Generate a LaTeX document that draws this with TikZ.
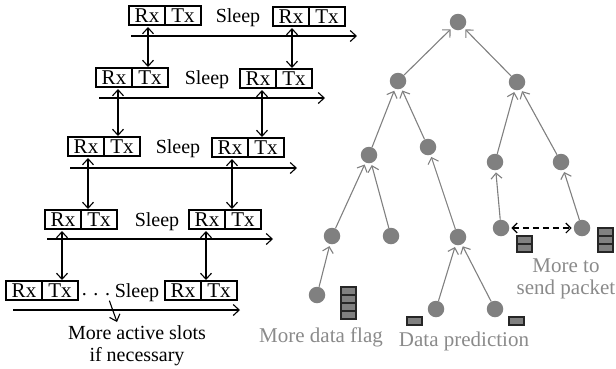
\documentclass[tikz,border=0pt]{standalone}
\usepackage{fontspec}
\setmainfont{Liberation Serif}
\usetikzlibrary{arrows.meta}
\definecolor{treegray}{RGB}{128,128,128}
\definecolor{labgray}{RGB}{138,138,138}
\begin{document}
\begin{tikzpicture}[x=1pt,y=-1pt,
  slot/.style={draw, line width=1.1pt, minimum width=36pt, minimum height=19pt,
    inner sep=0pt, outer sep=0pt, text height=13.9pt, text depth=0pt,
    font=\fontsize{21}{23}\selectfont},
  blab/.style={inner sep=0pt, anchor=base, font=\fontsize{20}{22}\selectfont},
  glab/.style={inner sep=0pt, anchor=base, text=labgray, font=\fontsize{21}{23}\selectfont},
  axis/.style={line width=1.1pt, -{Straight Barb[length=6pt,width=11pt,line width=1.1pt]}},
  dbl/.style={line width=1.1pt, {Straight Barb[length=6pt,width=11pt,line width=1.1pt]}-{Straight Barb[length=6pt,width=11pt,line width=1.1pt]}, shorten <=2pt, shorten >=1pt},
  tn/.style={circle, fill=treegray, minimum size=16.5pt, inner sep=0pt},
  tedge/.style={treegray, line width=1.1pt, -{Straight Barb[length=5.5pt,width=11pt,line width=1.1pt]}, shorten >=2pt},
  dasharr/.style={black, line width=1.1pt, dash pattern=on 6pt off 4pt, {Straight Barb[length=5pt,width=10pt,line width=1.1pt]}-{Straight Barb[length=5pt,width=10pt,line width=1.1pt]}, shorten <=2pt, shorten >=2pt},
  pkt/.style={draw=black!85, fill=treegray, line width=1.1pt, minimum width=15pt, minimum height=8pt, inner sep=0pt, outer sep=0pt, anchor=north west}
]
\useasboundingbox (0,0) rectangle (616,368);

% ---- left: slot rows ----
% row 1
\node[slot, anchor=north west] (r1a) at (129,6) {Rx};
\node[slot, anchor=west] (r1b) at (r1a.east) {Tx};
\node[slot, anchor=north west] (r1c) at (273,7) {Rx};
\node[slot, anchor=west] (r1d) at (r1c.east) {Tx};
\node[blab] (s1) at (r1a.base -| 238,0) {Sleep};
\coordinate (ax1s) at (131,36); \coordinate (ax1e) at (357,36);
\draw[axis] (ax1s) -- (ax1e);
% row 2
\node[slot, anchor=north west] (r2a) at (96,68) {Rx};
\node[slot, anchor=west] (r2b) at (r2a.east) {Tx};
\node[slot, anchor=north west] (r2c) at (240,69) {Rx};
\node[slot, anchor=west] (r2d) at (r2c.east) {Tx};
\node[blab] (s2) at (r2a.base -| 207,0) {Sleep};
\coordinate (ax2s) at (99,98); \coordinate (ax2e) at (325,98);
\draw[axis] (ax2s) -- (ax2e);
% row 3
\node[slot, anchor=north west] (r3a) at (68,137) {Rx};
\node[slot, anchor=west] (r3b) at (r3a.east) {Tx};
\node[slot, anchor=north west] (r3c) at (212,138) {Rx};
\node[slot, anchor=west] (r3d) at (r3c.east) {Tx};
\node[blab] (s3) at (r3a.base -| 178,0) {Sleep};
\coordinate (ax3s) at (70,168); \coordinate (ax3e) at (297,168);
\draw[axis] (ax3s) -- (ax3e);
% row 4
\node[slot, anchor=north west] (r4a) at (45,210) {Rx};
\node[slot, anchor=west] (r4b) at (r4a.east) {Tx};
\node[slot, anchor=north west] (r4c) at (189,210) {Rx};
\node[slot, anchor=west] (r4d) at (r4c.east) {Tx};
\node[blab] (s4) at (r4a.base -| 157,0) {Sleep};
\coordinate (ax4s) at (47,239); \coordinate (ax4e) at (273,239);
\draw[axis] (ax4s) -- (ax4e);
% row 5
\node[slot, anchor=north west] (r5a) at (6,281) {Rx};
\node[slot, anchor=west] (r5b) at (r5a.east) {Tx};
\node[slot, anchor=north west] (r5c) at (165,281) {Rx};
\node[slot, anchor=west] (r5d) at (r5c.east) {Tx};
\node[blab] (dots) at (r5a.base -| 96,0) {\raisebox{1.5pt}{.\,\,.\,\,.}};
\node[blab] (s5) at (r5a.base -| 137,0) {Sleep};
\coordinate (ax5s) at (13,310); \coordinate (ax5e) at (240,310);
\draw[axis] (ax5s) -- (ax5e);

% vertical double arrows
\draw[dbl] (r1a.south -| 148,0) -- (r2b.north -| 148,0);
\draw[dbl] (r1c.south -| 292,0) -- (r2d.north -| 292,0);
\draw[dbl] (r2a.south -| 118,0) -- (r3b.north -| 118,0);
\draw[dbl] (r2c.south -| 262,0) -- (r3d.north -| 262,0);
\draw[dbl] (r3a.south -| 88,0) -- (r4b.north -| 88,0);
\draw[dbl] (r3c.south -| 232,0) -- (r4d.north -| 232,0);
\draw[dbl] (r4a.south -| 62,0) -- (r5b.north -| 62,0);
\draw[dbl] (r4c.south -| 206,0) -- (r5d.north -| 206,0);

% more active slots
\node[blab] (mas1) at (137,339) {More active slots};
\node[blab] (mas2) at (137,361) {if necessary};
\coordinate (masend) at (117,322);
\draw[axis] ([shift={(-1,3)}]dots.south east) -- (masend);

% ---- right: tree ----
\node[tn] (t0) at (458,22) {};
\node[tn] (t1) at (398,81) {};
\node[tn] (t2) at (517,82) {};
\node[tn] (t3) at (369,155) {};
\node[tn] (t4) at (428,147) {};
\node[tn] (t5) at (495,162) {};
\node[tn] (t6) at (561,162) {};
\node[tn] (t7) at (332,236) {};
\node[tn] (t8) at (391,236) {};
\node[tn] (t9) at (458,237) {};
\node[tn] (t10) at (501,228) {};
\node[tn] (t11) at (582,228) {};
\node[tn] (t12) at (317,295) {};
\node[tn] (t13) at (436,309) {};
\node[tn] (t14) at (495,309) {};

\draw[tedge] (t1) -- (t0);
\draw[tedge] (t2) -- (t0);
\draw[tedge] (t3) -- (t1);
\draw[tedge] (t4) -- (t1);
\draw[tedge] (t5) -- (t2);
\draw[tedge] (t6) -- (t2);
\draw[tedge] (t7) -- (t3);
\draw[tedge] (t8) -- (t3);
\draw[tedge] (t9) -- (t4);
\draw[tedge] (t10) -- (t5);
\draw[tedge] (t11) -- (t6);
\draw[tedge] (t12) -- (t7);
\draw[tedge] (t13) -- (t9);
\draw[tedge] (t14) -- (t9);

\draw[dasharr] (t10) -- (t11);

% packets
\node[pkt] (pa1) at (517,236) {};
\node[pkt] (pa2) at (517,244) {};
\node[pkt] (pb1) at (598,228) {};
\node[pkt] (pb2) at (598,236) {};
\node[pkt] (pb3) at (598,244) {};
\node[pkt] (pc1) at (341,287) {};
\node[pkt] (pc2) at (341,295) {};
\node[pkt] (pc3) at (341,303) {};
\node[pkt] (pc4) at (341,311) {};
\node[pkt] (pd1) at (407,317) {};
\node[pkt] (pe1) at (509,317) {};

% gray labels
\node[glab] (lflag) at (321,342) {More data flag};
\node[glab] (lpred) at (464,346) {Data prediction};
\node[glab] (lmore1) at (566,272) {More to};
\node[glab] (lmore2) at (566,294) {send packet};
\end{tikzpicture}
\end{document}
